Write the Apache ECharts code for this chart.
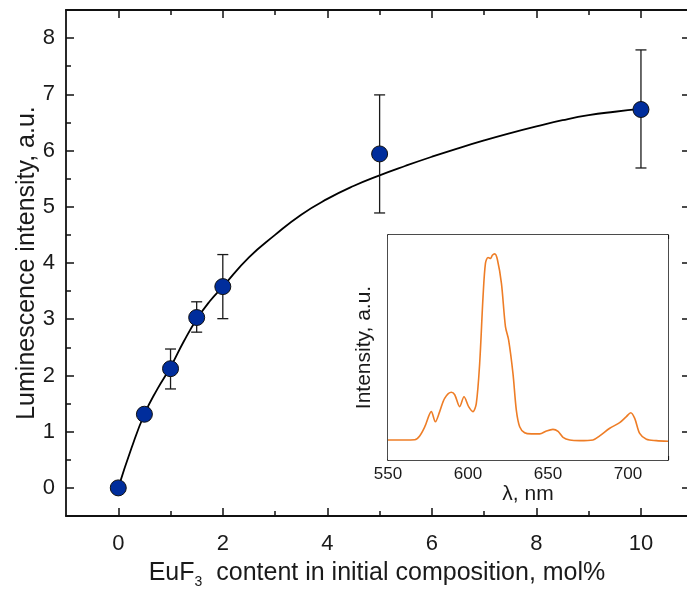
<!DOCTYPE html>
<html>
<head>
<meta charset="utf-8">
<script src="https://cdn.jsdelivr.net/npm/echarts@6/dist/echarts.min.js"></script>
<style>html,body{margin:0;padding:0;background:#fff;}#c{width:687px;height:589px;}</style>
</head>
<body>
<div id="c"></div>
<script>
// Main plot: measured points
var ptX = [0, 0.5, 1, 1.5, 2, 5, 10];
var ptY = [0, 1.31, 2.12, 3.03, 3.58, 5.94, 6.73];
// Error bars
var errX = [1, 1.5, 2, 5, 10];
var errLow = [1.76, 2.77, 3.01, 4.89, 5.69];
var errHigh = [2.47, 3.31, 4.15, 6.99, 7.79];
// Fitted curve
var curveX = [0, 0.25, 0.5, 0.75, 1, 1.25, 1.5, 1.75, 2, 2.5, 3, 3.5, 4, 4.5, 5, 5.5, 6, 6.5, 7, 7.5, 8, 8.5, 9, 9.5, 10];
var curveY = [0, 0.7, 1.31, 1.76, 2.15, 2.6, 3.0, 3.32, 3.58, 4.1, 4.5, 4.86, 5.14, 5.37, 5.56, 5.73, 5.89, 6.04, 6.18, 6.31, 6.43, 6.54, 6.63, 6.69, 6.74];
// Tick labels
var xMajor = [0, 2, 4, 6, 8, 10];
var xMinor = [1, 3, 5, 7, 9];
var yMajor = [0, 1, 2, 3, 4, 5, 6, 7, 8];
var yMinor = [0.5, 1.5, 2.5, 3.5, 4.5, 5.5, 6.5, 7.5];
// Inset spectrum
var specX = [550, 560, 566.7, 569.8, 573, 577.1, 579.6, 582.3, 585.4, 589.6, 591.7, 594.8, 597.5, 600.4, 603.1, 605.2, 607.3, 609.4, 610.9, 612.5, 614.2, 615.2, 616.7, 618.4, 620.9, 623.4, 625.4, 628.1, 630.2, 632.3, 635.4, 639.6, 644.8, 649, 653.1, 656.3, 659.4, 663.6, 669.8, 678.1, 682.3, 688.6, 694.8, 699, 701.7, 704.2, 707.3, 711.5, 717.7, 725];
var specY = [0.089, 0.089, 0.09, 0.107, 0.148, 0.215, 0.17, 0.215, 0.274, 0.301, 0.29, 0.237, 0.281, 0.237, 0.215, 0.252, 0.43, 0.726, 0.874, 0.9, 0.896, 0.91, 0.916, 0.89, 0.785, 0.593, 0.533, 0.385, 0.222, 0.148, 0.121, 0.116, 0.116, 0.129, 0.136, 0.127, 0.101, 0.089, 0.086, 0.089, 0.107, 0.141, 0.166, 0.193, 0.21, 0.185, 0.118, 0.092, 0.086, 0.083];
var insetLabels = [550, 600, 650, 700];

var FONT = 'Liberation Sans';
var TXT = '#1a1a1a';
var LINE = {show: true, onZero: false, lineStyle: {color: '#111', width: 1.8}};
var ILINE = {show: true, onZero: false, lineStyle: {color: '#111', width: 1.5}};
var NOLINE = {show: false, onZero: false};

function zip(a, b) { return a.map(function (v, i) { return [v, b[i]]; }); }

var chart = echarts.init(document.getElementById('c'), null, {renderer: 'canvas'});
chart.setOption({
  animation: false,
  backgroundColor: '#fff',
  textStyle: {fontFamily: FONT, color: TXT},
  grid: [
    {left: 66, right: -1, top: 10, bottom: 73, containLabel: false, outerBoundsMode: 'none'},
    {left: 388, width: 280, top: 235, height: 225, show: true, backgroundColor: '#fff', borderWidth: 0, z: 5,
     containLabel: false, outerBoundsMode: 'none'}
  ],
  xAxis: [
    {gridIndex: 0, type: 'value', min: -1, max: 10.9, position: 'bottom', axisLine: LINE,
     axisTick: {inside: true, length: 8, customValues: xMajor, lineStyle: {color: '#111', width: 1.5}},
     axisLabel: {customValues: xMajor, fontSize: 22, color: TXT, margin: 17, fontFamily: FONT},
     splitLine: {show: false},
     name: 'EuF{s|3}  content in initial composition, mol%', nameLocation: 'middle', nameGap: 45, nameMoveOverlap: false,
     nameTextStyle: {fontSize: 25, color: TXT, fontFamily: FONT,
       rich: {s: {fontSize: 14, color: TXT, fontFamily: FONT, verticalAlign: 'bottom', padding: [0, 0, -3, 0]}}}},
    {gridIndex: 0, type: 'value', min: -1, max: 10.9, position: 'bottom', axisLine: NOLINE,
     axisTick: {inside: true, length: 5, customValues: xMinor, lineStyle: {color: '#111', width: 1.5}},
     axisLabel: {show: false}, splitLine: {show: false}},
    {gridIndex: 0, type: 'value', min: -1, max: 10.9, position: 'top', axisLine: LINE,
     axisTick: {inside: true, length: 8, customValues: xMajor, lineStyle: {color: '#111', width: 1.5}},
     axisLabel: {show: false}, splitLine: {show: false}},
    {gridIndex: 0, type: 'value', min: -1, max: 10.9, position: 'top', axisLine: NOLINE,
     axisTick: {inside: true, length: 5, customValues: xMinor, lineStyle: {color: '#111', width: 1.5}},
     axisLabel: {show: false}, splitLine: {show: false}},
    {gridIndex: 1, type: 'value', min: 550, max: 725, interval: 25, position: 'bottom', axisLine: ILINE,
     axisTick: {inside: true, length: 4, lineStyle: {color: '#111', width: 1.2}},
     axisLabel: {fontSize: 17, color: TXT, margin: 6, fontFamily: FONT,
       formatter: function (v) { return insetLabels.indexOf(v) >= 0 ? String(v) : ''; }},
     splitLine: {show: false},
     name: 'λ, nm', nameLocation: 'middle', nameGap: 21, nameTextStyle: {fontSize: 21, color: TXT, fontFamily: FONT}},
    {gridIndex: 1, type: 'value', min: 550, max: 725, interval: 25, position: 'top', axisLine: ILINE,
     axisTick: {inside: true, length: 4, lineStyle: {color: '#111', width: 1.2}},
     axisLabel: {show: false}, splitLine: {show: false}}
  ],
  yAxis: [
    {gridIndex: 0, type: 'value', min: -0.5, max: 8.5, position: 'left', axisLine: LINE,
     axisTick: {inside: true, length: 8, customValues: yMajor, lineStyle: {color: '#111', width: 1.5}},
     axisLabel: {customValues: yMajor, fontSize: 22, color: TXT, margin: 11, fontFamily: FONT},
     splitLine: {show: false},
     name: 'Luminescence intensity, a.u.', nameLocation: 'middle', nameGap: 26, nameMoveOverlap: false,
     nameTextStyle: {fontSize: 25, color: TXT, fontFamily: FONT}},
    {gridIndex: 0, type: 'value', min: -0.5, max: 8.5, position: 'left', axisLine: NOLINE,
     axisTick: {inside: true, length: 5, customValues: yMinor, lineStyle: {color: '#111', width: 1.5}},
     axisLabel: {show: false}, splitLine: {show: false}},
    {gridIndex: 0, type: 'value', min: -0.5, max: 8.5, position: 'right', axisLine: LINE,
     axisTick: {inside: true, length: 6, customValues: yMajor, lineStyle: {color: '#111', width: 1.5}},
     axisLabel: {show: false}, splitLine: {show: false}},
    {gridIndex: 1, type: 'value', min: 0, max: 1, position: 'left', axisLine: ILINE,
     axisTick: {show: false}, axisLabel: {show: false}, splitLine: {show: false},
     name: 'Intensity, a.u.', nameLocation: 'middle', nameGap: 13,
     nameTextStyle: {fontSize: 21, color: TXT, fontFamily: FONT}},
    {gridIndex: 1, type: 'value', min: 0, max: 1, position: 'right', axisLine: ILINE,
     axisTick: {show: false}, axisLabel: {show: false}, splitLine: {show: false}}
  ],
  series: [
    {type: 'line', xAxisIndex: 0, yAxisIndex: 0, data: zip(curveX, curveY), smooth: 0.5,
     showSymbol: false, symbol: 'none', lineStyle: {color: '#000', width: 1.8}, z: 2, silent: true},
    {type: 'custom', xAxisIndex: 0, yAxisIndex: 0, z: 3,
     data: errX.map(function (x, i) { return [x, errLow[i], errHigh[i]]; }),
     encode: {x: 0, y: [1, 2]},
     renderItem: function (params, api) {
       var lo = api.coord([api.value(0), api.value(1)]);
       var hi = api.coord([api.value(0), api.value(2)]);
       var w = 5.5;
       var st = {stroke: '#1a1a1a', lineWidth: 1.3};
       return {type: 'group', children: [
         {type: 'line', shape: {x1: lo[0], y1: lo[1], x2: hi[0], y2: hi[1]}, style: st},
         {type: 'line', shape: {x1: lo[0] - w, y1: lo[1], x2: lo[0] + w, y2: lo[1]}, style: st},
         {type: 'line', shape: {x1: hi[0] - w, y1: hi[1], x2: hi[0] + w, y2: hi[1]}, style: st}
       ]};
     }},
    {type: 'scatter', xAxisIndex: 0, yAxisIndex: 0, data: zip(ptX, ptY), symbol: 'circle', symbolSize: 16,
     itemStyle: {color: '#002d9c', borderColor: '#111', borderWidth: 1, opacity: 1}, emphasis: {disabled: true}, z: 4},
    {type: 'line', xAxisIndex: 4, yAxisIndex: 3, data: zip(specX, specY), smooth: 0.3,
     showSymbol: false, symbol: 'none', lineStyle: {color: '#ee7d26', width: 1.6}, z: 6}
  ]
});
</script>
</body>
</html>
